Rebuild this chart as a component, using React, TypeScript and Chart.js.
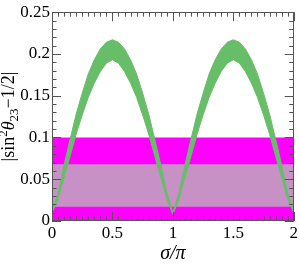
import React, { useEffect, useRef } from "react";
import { Chart, registerables } from "chart.js";

Chart.register(...registerables);

// sigma / pi sample positions
const sigma = [
  0, 0.05, 0.1, 0.15, 0.2, 0.25, 0.3, 0.35, 0.4, 0.45, 0.5,
  0.55, 0.6, 0.65, 0.7, 0.75, 0.8, 0.85, 0.9, 0.95, 1.0,
  1.05, 1.1, 1.15, 1.2, 1.25, 1.3, 1.35, 1.4, 1.45, 1.5,
  1.55, 1.6, 1.65, 1.7, 1.75, 1.8, 1.85, 1.9, 1.95, 2.0,
];
// upper edge of the green band
const greenUpper = [
  0.012, 0.034, 0.067, 0.098, 0.128, 0.153, 0.176, 0.193, 0.206, 0.214, 0.217,
  0.214, 0.206, 0.193, 0.176, 0.153, 0.128, 0.098, 0.067, 0.034, 0.010,
  0.034, 0.067, 0.098, 0.128, 0.153, 0.176, 0.193, 0.206, 0.214, 0.217,
  0.214, 0.206, 0.193, 0.176, 0.153, 0.128, 0.098, 0.067, 0.034, 0.012,
];
// lower edge of the green band
const greenLower = [
  0.010, 0.026, 0.052, 0.078, 0.104, 0.127, 0.148, 0.165, 0.179, 0.189, 0.193,
  0.189, 0.179, 0.165, 0.148, 0.127, 0.104, 0.078, 0.052, 0.026, 0.008,
  0.026, 0.052, 0.078, 0.104, 0.127, 0.148, 0.165, 0.179, 0.189, 0.193,
  0.189, 0.179, 0.165, 0.148, 0.127, 0.104, 0.078, 0.052, 0.026, 0.010,
];
// horizontal bands
const magentaTop = 0.1;
const grayLow = 0.017;
const grayHigh = 0.068;

const xTicks = [0, 0.5, 1, 1.5, 2];
const xTickLabels = ["0", "0.5", "1", "1.5", "2"];
const yTicks = [0, 0.05, 0.1, 0.15, 0.2, 0.25];
const yTickLabels = ["0", "0.05", "0.1", "0.15", "0.2", "0.25"];
const xMinorStep = 0.05;
const yMinorStep = 0.01;
const xTitle = "σ/π";

const FONT = '"Liberation Serif", "DejaVu Serif", serif';
const GREEN = "rgb(104,190,104)";
const MAGENTA = "rgb(255,0,255)";
const GRAY = "rgb(199,145,198)";
const FRAME = "#555";

const framePlugin = {
  id: "frameTicks",
  afterDraw(chart: any) {
    const { ctx, chartArea: a, scales } = chart;
    const xs = scales.x;
    const ys = scales.y;
    ctx.save();
    ctx.strokeStyle = FRAME;
    ctx.lineWidth = 1;
    const isMajor = (v: number, arr: number[]) =>
      arr.some((m) => Math.abs(m - v) < 1e-6);
    for (let i = 0; i <= Math.round(2 / xMinorStep); i++) {
      const v = i * xMinorStep;
      const px = Math.round(xs.getPixelForValue(v)) + 0.5;
      const len = isMajor(v, xTicks) ? 9 : 4.5;
      ctx.beginPath();
      ctx.moveTo(px, a.bottom);
      ctx.lineTo(px, a.bottom - len);
      ctx.moveTo(px, a.top);
      ctx.lineTo(px, a.top + len);
      ctx.stroke();
    }
    for (let i = 0; i <= Math.round(0.25 / yMinorStep); i++) {
      const v = i * yMinorStep;
      const py = Math.round(ys.getPixelForValue(v)) + 0.5;
      const len = isMajor(v, yTicks) ? 9 : 4.5;
      ctx.beginPath();
      ctx.moveTo(a.left, py);
      ctx.lineTo(a.left + len, py);
      ctx.moveTo(a.right, py);
      ctx.lineTo(a.right - len, py);
      ctx.stroke();
    }
    ctx.strokeRect(
      Math.round(a.left) + 0.5,
      Math.round(a.top) + 0.5,
      Math.round(a.right - a.left) - 1,
      Math.round(a.bottom - a.top) - 1
    );

    // x-axis title
    ctx.fillStyle = "#000";
    ctx.font = `italic 20px ${FONT}`;
    ctx.textAlign = "center";
    ctx.textBaseline = "alphabetic";
    ctx.fillText(xTitle, (a.left + a.right) / 2, a.bottom + 38);

    // y-axis title with super/subscripts
    const pieces = [
      { t: "|sin", f: `18px ${FONT}`, dy: 0 },
      { t: "2", f: `13px ${FONT}`, dy: -7 },
      { t: "θ", f: `italic 18px ${FONT}`, dy: 0 },
      { t: "23", f: `13px ${FONT}`, dy: 4 },
      { t: "−1/2|", f: `18px ${FONT}`, dy: 0 },
    ];
    let total = 0;
    const widths = pieces.map((p) => {
      ctx.font = p.f;
      const w = ctx.measureText(p.t).width;
      total += w;
      return w;
    });
    ctx.translate(14, (a.top + a.bottom) / 2);
    ctx.rotate(-Math.PI / 2);
    ctx.textAlign = "left";
    let x = -total / 2;
    pieces.forEach((p, i) => {
      ctx.font = p.f;
      ctx.fillText(p.t, x, p.dy);
      x += widths[i];
    });
    ctx.restore();
  },
};

export default function App() {
  const ref = useRef<HTMLCanvasElement | null>(null);

  useEffect(() => {
    if (!ref.current) return;
    const pts = (ys: number[]) => sigma.map((s, i) => ({ x: s, y: ys[i] }));
    const flat = (v: number) => [
      { x: 0, y: v },
      { x: 2, y: v },
    ];
    const chart = new Chart(ref.current, {
      type: "line",
      data: {
        datasets: [
          { data: pts(greenUpper), borderColor: GREEN, backgroundColor: GREEN, borderWidth: 1, pointRadius: 0, tension: 0, fill: 1, order: 0 },
          { data: pts(greenLower), borderColor: GREEN, borderWidth: 1, pointRadius: 0, tension: 0, fill: false, order: 1 },
          { data: flat(grayHigh), borderColor: "rgba(0,0,0,0)", backgroundColor: GRAY, borderWidth: 1, pointRadius: 0, fill: 3, order: 2 },
          { data: flat(grayLow), borderColor: "rgba(0,0,0,0)", borderWidth: 1, pointRadius: 0, fill: false, order: 3 },
          { data: flat(magentaTop), borderColor: "rgba(0,0,0,0)", backgroundColor: MAGENTA, borderWidth: 1, pointRadius: 0, fill: "origin", order: 4 },
        ],
      },
      options: {
        responsive: false,
        animation: false,
        events: [],
        layout: { padding: { top: 10, right: 4, left: 0, bottom: 0 } },
        plugins: { legend: { display: false }, tooltip: { enabled: false } },
        scales: {
          x: {
            type: "linear",
            min: 0,
            max: 2,
            afterBuildTicks: (s: any) => { s.ticks = xTicks.map((v) => ({ value: v })); },
            afterFit: (s: any) => { s.height = 44; },
            ticks: {
              callback: (_v: any, i: number) => xTickLabels[i],
              font: { family: FONT, size: 17 },
              color: "#000",
              padding: 2,
              maxRotation: 0,
              autoSkip: false,
            },
            grid: { display: false, drawTicks: false, tickLength: 0 },
            border: { display: false },
          },
          y: {
            type: "linear",
            min: 0,
            max: 0.25,
            afterBuildTicks: (s: any) => { s.ticks = yTicks.map((v) => ({ value: v })); },
            afterFit: (s: any) => { s.width = 52; },
            ticks: {
              callback: (_v: any, i: number) => yTickLabels[i],
              font: { family: FONT, size: 17 },
              color: "#000",
              padding: 2,
              autoSkip: false,
            },
            grid: { display: false, drawTicks: false, tickLength: 0 },
            border: { display: false },
          },
        },
      },
      plugins: [framePlugin],
    } as any);
    return () => chart.destroy();
  }, []);

  return (
    <div style={{ position: "absolute", left: 0, top: 0, width: 300, height: 265 }}>
      <canvas ref={ref} width={300} height={265} />
    </div>
  );
}
